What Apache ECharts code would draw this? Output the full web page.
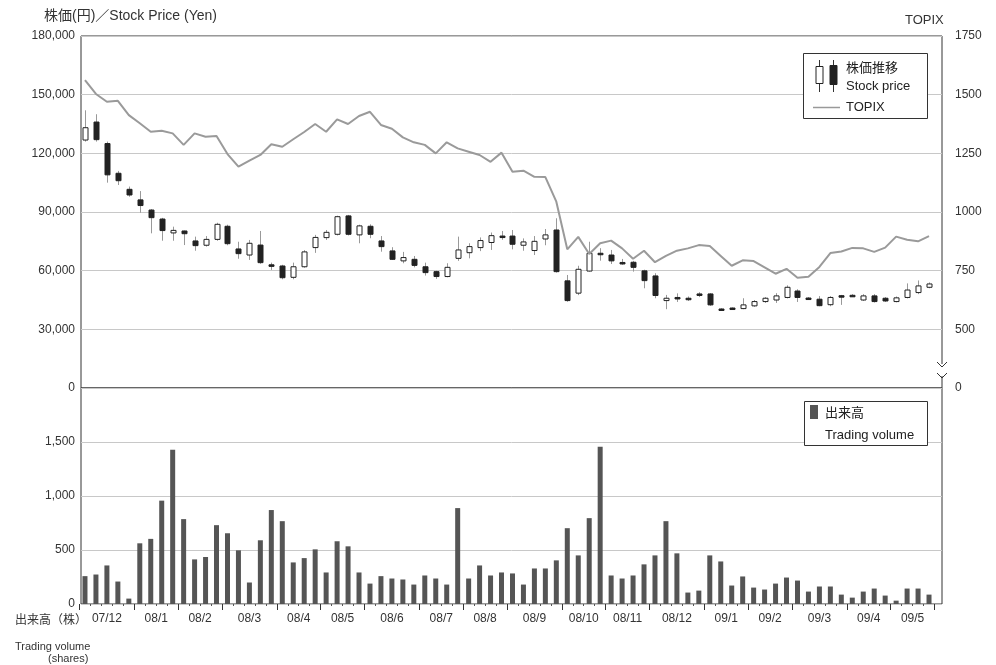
<!DOCTYPE html>
<html>
<head>
<meta charset="utf-8">
<script src="https://cdn.jsdelivr.net/npm/echarts@6/dist/echarts.min.js"></script>
<style>
  html, body { margin: 0; padding: 0; background: #fff; }
  #chart { width: 996px; height: 665px; }
</style>
</head>
<body>
<div id="chart"></div>
<script>
// month labels and how many weekly candles fall in each month
const monthLabels = ['07/12', '08/1', '08/2', '08/3', '08/4', '08/5', '08/6', '08/7', '08/8',
  '08/9', '08/10', '08/11', '08/12', '09/1', '09/2', '09/3', '09/4', '09/5']
const monthWeeks = [5, 4, 4, 5, 4, 4, 5, 4, 4, 5, 4, 4, 5, 4, 4, 5, 4, 4]

// weekly stock price (yen)
const openPrices = [126800, 136000, 125000, 109800, 101600, 96200, 91000, 86400, 79300, 80300,
  75200, 73000, 76000, 82700, 71100, 68000, 73100, 63000, 62400, 56600,
  62000, 71800, 76900, 78600, 88000, 78300, 82700, 75200, 70100, 65000,
  65800, 62000, 59500, 57000, 66300, 69200, 71800, 74400, 77700, 77700,
  73000, 70300, 76200, 80800, 54800, 48500, 59800, 68900, 68000, 64200,
  64300, 59900, 57300, 44700, 46300, 45900, 48100, 48100, 40400, 40900,
  40600, 42000, 44200, 45000, 46300, 49600, 46000, 45400, 42600, 47200,
  47400, 45000, 47100, 45900, 44200, 46300, 48800, 51500]
const closePrices = [133100, 127000, 109000, 106000, 98700, 93300, 87100, 80500, 80600, 78900,
  72800, 76000, 83700, 73800, 68700, 74000, 64100, 62200, 56400, 62000,
  69600, 77000, 79600, 87600, 78600, 82900, 78600, 72300, 65800, 66700,
  62700, 59000, 57000, 61700, 70600, 72300, 75400, 77900, 77300, 73500,
  74700, 75000, 78300, 59500, 44700, 60700, 68900, 68300, 65000, 63600,
  61700, 54900, 47300, 45900, 45800, 45300, 47400, 42500, 39700, 40400,
  42500, 44200, 45900, 47100, 51500, 46300, 45500, 42100, 46300, 46600,
  47200, 47100, 44200, 44500, 46100, 50100, 52200, 53200]
const lowPrices = [126000, 126000, 105000, 103800, 97800, 89600, 79100, 75300, 75300, 73100,
  70200, 72300, 75300, 73000, 66100, 65500, 63500, 60400, 55600, 55600,
  61500, 69100, 75700, 78000, 78000, 74000, 76600, 69700, 65500, 63800,
  61700, 57500, 55800, 56600, 65000, 66300, 70000, 70600, 75800, 70900,
  70200, 68000, 73000, 59000, 44100, 47500, 59500, 65100, 63400, 63000,
  59500, 51000, 45900, 40300, 44000, 44500, 46500, 42000, 39500, 40200,
  40300, 41500, 43500, 43500, 45800, 44000, 45000, 41800, 41800, 42500,
  46800, 44500, 43700, 44000, 43800, 45800, 48000, 51000]
const highPrices = [142000, 140000, 126000, 111000, 103000, 100700, 91500, 87000, 82500, 80500,
  77400, 77700, 84500, 83500, 74800, 75700, 80300, 64100, 63000, 64100,
  70500, 78300, 80800, 88100, 88500, 83500, 83700, 77700, 72000, 69600,
  67500, 64100, 60000, 63800, 77400, 74000, 77000, 79500, 80300, 80800,
  76500, 77700, 81300, 86800, 57800, 62500, 74800, 71500, 70600, 66000,
  65000, 60500, 58700, 47600, 48400, 46800, 49000, 48500, 40800, 41200,
  45900, 45000, 46500, 48500, 52500, 50500, 46500, 47000, 47000, 47600,
  48000, 48000, 48000, 46500, 46800, 53500, 55000, 54000]

// TOPIX weekly
const topix = [1562, 1503, 1470, 1474, 1413, 1378, 1342, 1346, 1335, 1286,
  1335, 1321, 1324, 1247, 1193, 1219, 1243, 1289, 1278, 1310,
  1341, 1375, 1342, 1395, 1375, 1409, 1427, 1371, 1355, 1318,
  1297, 1286, 1250, 1297, 1271, 1257, 1243, 1214, 1253, 1172,
  1176, 1150, 1149, 1044, 841, 894, 821, 867, 878, 845,
  801, 835, 786, 813, 835, 845, 859, 855, 813, 771,
  794, 791, 764, 737, 758, 720, 724, 766, 825, 832,
  847, 845, 830, 848, 895, 882, 875, 897]

// weekly trading volume (shares)
const volumes = [258, 273, 357, 208, 50, 562, 603, 957, 1429, 786,
  413, 435, 730, 655, 497, 199, 590, 870, 767, 385,
  425, 506, 292, 581, 534, 292, 189, 258, 236, 227,
  180, 264, 236, 180, 888, 236, 357, 264, 292, 283,
  180, 329, 329, 404, 702, 450, 795, 1457, 264, 236,
  264, 367, 450, 767, 469, 106, 124, 450, 394, 171,
  255, 152, 134, 189, 245, 217, 115, 162, 162, 87,
  59, 115, 143, 78, 31, 143, 143, 87]

const weeks = []
const monthEdges = [0]
const monthCenters = []
monthLabels.forEach((m, k) => {
  for (let w = 1; w <= monthWeeks[k]; w++) weeks.push(m + '-' + w)
  const start = monthEdges[monthEdges.length - 1]
  monthCenters.push(start + monthWeeks[k] / 2)
  monthEdges.push(start + monthWeeks[k])
})

const candles = openPrices.map((o, i) => [i, o, closePrices[i], lowPrices[i], highPrices[i]])

const fontLatin = "'Liberation Sans', 'Noto Sans CJK JP', sans-serif"
const fontJa = "'Noto Sans CJK JP', 'Liberation Sans', sans-serif"
const labelStyle = { color: '#333', fontSize: 12, fontFamily: fontLatin }
const splitStyle = { lineStyle: { color: '#c8c8c8', width: 1 } }

const chart = echarts.init(document.getElementById('chart'))
chart.setOption({
  animation: false,
  backgroundColor: '#fff',
  grid: [
    // frames (axes, borders)
    { left: 81, right: 54, top: 36, height: 352, show: true, borderColor: '#333', borderWidth: 1 },
    { left: 81, right: 54, top: 388, height: 216, show: true, borderColor: '#333', borderWidth: 1 },
    // data areas
    { left: 79.5, right: 61.5, top: 36, height: 352 },
    { left: 79.5, right: 61.5, top: 388, height: 216 }
  ],
  xAxis: [
    { gridIndex: 0, type: 'value', show: false, min: 0, max: 1 },
    { gridIndex: 1, type: 'value', show: false, min: 0, max: 1 },
    { gridIndex: 2, type: 'category', data: weeks, show: false },
    {
      gridIndex: 3, type: 'category', data: weeks,
      axisLine: { show: false },
      axisTick: { show: true, interval: 0, length: 2, lineStyle: { color: '#555' } },
      axisLabel: { show: false }
    },
    {
      gridIndex: 3, type: 'value', min: 0, max: weeks.length, position: 'bottom',
      axisLine: { show: false },
      splitLine: { show: false },
      axisTick: { show: true, customValues: monthEdges, length: 6, lineStyle: { color: '#333', width: 1 } },
      axisLabel: {
        show: true, customValues: monthCenters, margin: 9, ...labelStyle,
        formatter: v => monthLabels[monthCenters.indexOf(v)] || ''
      }
    }
  ],
  yAxis: [
    {
      gridIndex: 0, type: 'value', min: 0, max: 180000, interval: 30000,
      axisLine: { show: false }, axisTick: { show: false },
      axisLabel: { ...labelStyle, margin: 6, padding: [4, 0, 0, 0], formatter: v => v.toLocaleString('en-US') },
      splitLine: splitStyle
    },
    {
      gridIndex: 0, type: 'value', position: 'right', min: 250, max: 1750, interval: 250,
      axisLine: { show: false }, axisTick: { show: false },
      axisLabel: { ...labelStyle, margin: 13, padding: [3, 0, 0, 0], formatter: v => (v === 250 ? '0' : String(v)) },
      splitLine: { show: false }
    },
    {
      gridIndex: 1, type: 'value', min: 0, max: 2000, interval: 500,
      axisLine: { show: false }, axisTick: { show: false },
      axisLabel: { ...labelStyle, margin: 6, formatter: v => (v === 2000 ? '' : v.toLocaleString('en-US')) },
      splitLine: splitStyle
    },
    { gridIndex: 2, type: 'value', min: 0, max: 180000, show: false },
    { gridIndex: 2, type: 'value', min: 250, max: 1750, show: false },
    { gridIndex: 3, type: 'value', min: 0, max: 2000, show: false }
  ],
  series: [
    {
      name: '株価推移',
      type: 'custom',
      xAxisIndex: 2,
      yAxisIndex: 3,
      data: candles,
      encode: { x: 0, y: [1, 2, 3, 4] },
      z: 3,
      renderItem: (params, api) => {
        const i = api.value(0)
        const o = api.value(1)
        const c = api.value(2)
        const pO = api.coord([i, o])
        const pC = api.coord([i, c])
        const pL = api.coord([i, api.value(3)])
        const pH = api.coord([i, api.value(4)])
        const x = Math.round(pO[0]) + 0.5
        const top = Math.min(pO[1], pC[1])
        const bot = Math.max(pO[1], pC[1])
        const w = 5
        return {
          type: 'group',
          children: [
            { type: 'line', shape: { x1: x, y1: pL[1], x2: x, y2: pH[1] }, style: { stroke: '#999', lineWidth: 1 } },
            {
              type: 'rect',
              shape: { x: x - w / 2, y: top, width: w, height: Math.max(bot - top, 1.5) },
              style: { fill: c >= o ? '#fff' : '#222', stroke: '#222', lineWidth: 1 }
            }
          ]
        }
      }
    },
    {
      name: 'TOPIX',
      type: 'line',
      xAxisIndex: 2,
      yAxisIndex: 4,
      data: topix,
      showSymbol: false,
      symbol: 'none',
      z: 4,
      lineStyle: { color: '#9a9a9a', width: 2 }
    },
    {
      name: '出来高',
      type: 'bar',
      xAxisIndex: 3,
      yAxisIndex: 5,
      data: volumes,
      barWidth: 5,
      itemStyle: { color: '#555' }
    }
  ],
  graphic: [
    { type: 'text', left: 44, top: 9, style: { text: '株価(円)／Stock Price (Yen)', font: '14px ' + fontLatin, fill: '#333' } },
    { type: 'text', left: 905, top: 14, style: { text: 'TOPIX', font: '13px ' + fontLatin, fill: '#333' } },
    // price legend
    { type: 'rect', shape: { x: 803.5, y: 53.5, width: 124, height: 65 }, style: { fill: '#fff', stroke: '#333', lineWidth: 1 }, z: 10 },
    { type: 'line', shape: { x1: 819.5, y1: 60, x2: 819.5, y2: 92 }, style: { stroke: '#333', lineWidth: 1 }, z: 11 },
    { type: 'rect', shape: { x: 816, y: 66.5, width: 7, height: 17 }, style: { fill: '#fff', stroke: '#222', lineWidth: 1 }, z: 12 },
    { type: 'line', shape: { x1: 833.5, y1: 60, x2: 833.5, y2: 92 }, style: { stroke: '#333', lineWidth: 1 }, z: 11 },
    { type: 'rect', shape: { x: 830, y: 65.5, width: 7, height: 19 }, style: { fill: '#222', stroke: '#222', lineWidth: 1 }, z: 12 },
    { type: 'text', x: 846, y: 67, style: { text: '株価推移', font: '13px ' + fontJa, fill: '#222', verticalAlign: 'middle' }, z: 12 },
    { type: 'text', x: 846, y: 86, style: { text: 'Stock price', font: '13px ' + fontLatin, fill: '#222', verticalAlign: 'middle' }, z: 12 },
    { type: 'line', shape: { x1: 813, y1: 107.5, x2: 840, y2: 107.5 }, style: { stroke: '#999', lineWidth: 1.5 }, z: 12 },
    { type: 'text', x: 846, y: 107, style: { text: 'TOPIX', font: '13px ' + fontLatin, fill: '#222', verticalAlign: 'middle' }, z: 12 },
    // volume legend
    { type: 'rect', shape: { x: 804.5, y: 401.5, width: 123, height: 44 }, style: { fill: '#fff', stroke: '#333', lineWidth: 1 }, z: 10 },
    { type: 'rect', shape: { x: 810, y: 405, width: 8, height: 14 }, style: { fill: '#555' }, z: 12 },
    { type: 'text', x: 825, y: 412, style: { text: '出来高', font: '13px ' + fontJa, fill: '#222', verticalAlign: 'middle' }, z: 12 },
    { type: 'text', x: 825, y: 435, style: { text: 'Trading volume', font: '13px ' + fontLatin, fill: '#222', verticalAlign: 'middle' }, z: 12 },
    // axis break on the TOPIX axis
    { type: 'rect', shape: { x: 937, y: 364, width: 10, height: 12 }, style: { fill: '#fff' }, z: 20 },
    { type: 'polyline', shape: { points: [[937, 362], [942, 367], [947, 362]] }, style: { stroke: '#333', fill: null, lineWidth: 1 }, z: 21 },
    { type: 'polyline', shape: { points: [[937, 373], [942, 378], [947, 373]] }, style: { stroke: '#333', fill: null, lineWidth: 1 }, z: 21 },
    // bottom left captions
    { type: 'text', x: 15, y: 619, style: { text: '出来高（株）', font: '12px ' + fontJa, fill: '#333', verticalAlign: 'middle' } },
    { type: 'text', x: 15, y: 647, style: { text: 'Trading volume', font: '11px ' + fontLatin, fill: '#333', verticalAlign: 'middle' } },
    { type: 'text', x: 48, y: 659, style: { text: '(shares)', font: '11px ' + fontLatin, fill: '#333', verticalAlign: 'middle' } }
  ]
})
</script>
</body>
</html>
